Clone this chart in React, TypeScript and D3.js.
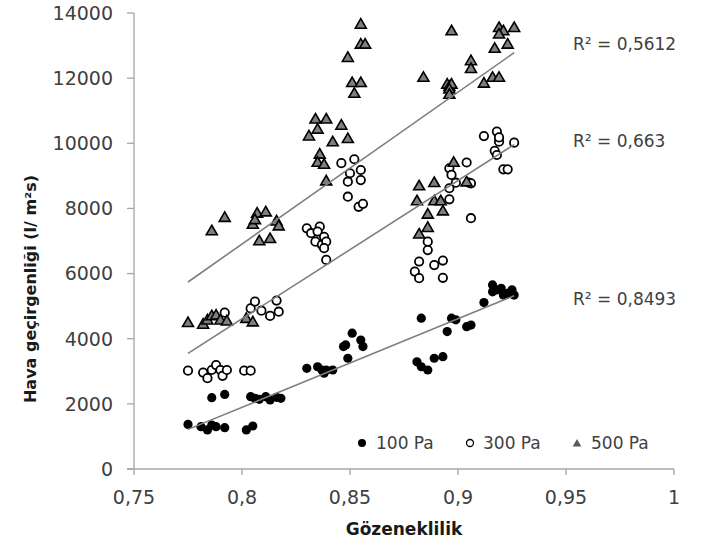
import * as React from 'react'
import * as d3 from 'd3'

// porosity / air permeability
const x100 = [0.775, 0.781, 0.784, 0.786, 0.788, 0.792, 0.786, 0.792, 0.802, 0.805, 0.804, 0.806, 0.808, 0.811, 0.813, 0.816, 0.818,
  0.830, 0.835, 0.839, 0.838, 0.842, 0.837, 0.849, 0.848, 0.851, 0.855, 0.856, 0.847,
  0.881, 0.883, 0.886, 0.889, 0.893, 0.883, 0.895, 0.897, 0.899, 0.904, 0.906, 0.912, 0.916, 0.918, 0.920, 0.923, 0.925, 0.926, 0.916, 0.921]
const y100 = [1370, 1300, 1200, 1350, 1300, 1270, 2190, 2290, 1200, 1320, 2220, 2170, 2140, 2220, 2120, 2200, 2170,
  3090, 3140, 3040, 2940, 3040, 3040, 3400, 3810, 4170, 3960, 3760, 3760,
  3290, 3140, 3040, 3400, 3450, 4630, 4220, 4630, 4580, 4370, 4420, 5110, 5650, 5500, 5550, 5390, 5500, 5340, 5440, 5340]

const x300 = [0.775, 0.782, 0.784, 0.786, 0.788, 0.790, 0.791, 0.793, 0.801, 0.804, 0.792, 0.804, 0.806, 0.809, 0.813, 0.816, 0.817,
  0.830, 0.832, 0.836, 0.835, 0.838, 0.834, 0.837, 0.839, 0.838, 0.839,
  0.846, 0.852, 0.855, 0.850, 0.855, 0.849, 0.849, 0.854, 0.856,
  0.886, 0.886, 0.882, 0.880, 0.882, 0.889, 0.893, 0.893,
  0.896, 0.897, 0.899, 0.896, 0.904, 0.905, 0.906, 0.896, 0.906,
  0.912, 0.918, 0.919, 0.919, 0.926, 0.917, 0.918, 0.921, 0.923]
const y300 = [3020, 2960, 2790, 3040, 3190, 3040, 2860, 3040, 3020, 3020, 4800, 4930, 5140, 4860, 4700, 5170, 4830,
  7390, 7240, 7440, 7290, 7130, 6980, 6880, 6980, 6780, 6420,
  9390, 9510, 9180, 9080, 8870, 8820, 8360, 8050, 8140,
  6980, 6720, 6370, 6060, 5860, 6260, 6400, 5870,
  9230, 9030, 8790, 8620, 9410, 8790, 8770, 8280, 7700,
  10220, 10360, 10050, 10180, 10020, 9770, 9640, 9200, 9200]

const x500 = [0.775, 0.782, 0.784, 0.786, 0.788, 0.790, 0.793, 0.802, 0.805,
  0.786, 0.792, 0.805, 0.807, 0.806, 0.811, 0.816, 0.817, 0.808, 0.813,
  0.834, 0.839, 0.835, 0.831, 0.836, 0.835, 0.838, 0.839, 0.846, 0.849, 0.842,
  0.855, 0.855, 0.857, 0.849, 0.851, 0.855, 0.852,
  0.884, 0.897, 0.895, 0.896, 0.897, 0.896, 0.896,
  0.906, 0.906, 0.912, 0.916, 0.919, 0.919, 0.921, 0.926, 0.919, 0.923, 0.917,
  0.881, 0.882, 0.889, 0.889, 0.892, 0.886, 0.893, 0.882, 0.886, 0.898, 0.904]
const y500 = [4470, 4420, 4550, 4680, 4700, 4550, 4520, 4600, 4490,
  7290, 7700, 7490, 7830, 7630, 7870, 7590, 7440, 6980, 7050,
  10720, 10720, 10410, 10200, 9640, 9390, 9330, 8820, 10530, 10120, 10020,
  13630, 13020, 13020, 12610, 11840, 11840, 11510,
  12000, 13430, 11790, 11720, 11790, 11640, 11480,
  12510, 12270, 11820, 12000, 12000, 13530, 13430, 13530, 13330, 13020, 12890,
  8210, 8670, 8770, 8210, 8210, 7800, 7900, 7190, 7390, 9390, 8790]

const seriesNames = ['100 Pa', '300 Pa', '500 Pa']
const rSquared = ['R² = 0,8493', 'R² = 0,663', 'R² = 0,5612']

const xTicks = [0.75, 0.8, 0.85, 0.9, 0.95, 1]
const xTickLabels = ['0,75', '0,8', '0,85', '0,9', '0,95', '1']
const yTicks = [0, 2000, 4000, 6000, 8000, 10000, 12000, 14000]

const FONT = '"DejaVu Sans", sans-serif'
const AXIS = '#a6a6a6'
const TEXT = '#404040'

const fit = (xs: number[], ys: number[]) => {
  const mx = d3.mean(xs) as number
  const my = d3.mean(ys) as number
  const b = d3.sum(xs, (v, i) => (v - mx) * (ys[i] - my)) / d3.sum(xs, v => (v - mx) ** 2)
  const a = my - b * mx
  const [x0, x1] = d3.extent(xs) as [number, number]
  return [[x0, a + b * x0], [x1, a + b * x1]] as [number, number][]
}

const App = () => {
  const x = d3.scaleLinear().domain([0.75, 1]).range([134, 674])
  const y = d3.scaleLinear().domain([0, 14000]).range([469, 13])
  const tri = d3.symbol().type(d3.symbolTriangle).size(52)()
  const triSmall = d3.symbol().type(d3.symbolTriangle).size(32)()
  const line = d3.line<[number, number]>().x(d => x(d[0])).y(d => y(d[1]))

  const series = [[x100, y100], [x300, y300], [x500, y500]]
  const labelY = [305, 147, 50]

  return (
    <svg width={711} height={546} style={{ position: 'absolute', left: 0, top: 0, background: '#fff' }}
      fontFamily={FONT}>
      {/* axes */}
      <line x1={134} x2={134} y1={y(14000)} y2={y(0)} stroke={AXIS} strokeWidth={1.3} />
      <line x1={127} x2={674} y1={y(0)} y2={y(0)} stroke={AXIS} strokeWidth={1.3} />
      {yTicks.map(t => (
        <g key={t}>
          <line x1={127} x2={134} y1={y(t)} y2={y(t)} stroke={AXIS} strokeWidth={1.3} />
          <text x={113} y={y(t)} dy="0.36em" textAnchor="end" fontSize={19} fill={TEXT}>{t}</text>
        </g>
      ))}
      {xTicks.map((t, i) => (
        <g key={t}>
          <line x1={x(t)} x2={x(t)} y1={y(0)} y2={y(0) + 6} stroke={AXIS} strokeWidth={1.3} />
          <text x={x(t)} y={504} textAnchor="middle" fontSize={19} fill={TEXT}>{xTickLabels[i]}</text>
        </g>
      ))}

      {/* markers */}
      {x100.map((v, i) => (
        <circle key={'a' + i} cx={x(v)} cy={y(y100[i])} r={4.6} fill="#000" />
      ))}
      {x300.map((v, i) => (
        <circle key={'b' + i} cx={x(v)} cy={y(y300[i])} r={4.2} fill="#fff" stroke="#000" strokeWidth={1.8} />
      ))}
      {x500.map((v, i) => (
        <path key={'c' + i} d={tri as string} transform={`translate(${x(v)},${y(y500[i])})`}
          fill="#7f7f7f" stroke="#000" strokeWidth={1.6} />
      ))}

      {/* linear trendlines */}
      {series.map(([xs, ys], i) => (
        <path key={'t' + i} d={line(fit(xs, ys)) as string} fill="none" stroke="#7f7f7f" strokeWidth={1.6} />
      ))}
      {rSquared.map((s, i) => (
        <text key={s} x={573} y={labelY[i]} fontSize={17} fill={TEXT}>{s}</text>
      ))}

      {/* legend */}
      <circle cx={362} cy={443} r={4} fill="#000" />
      <text x={376} y={449} fontSize={17} fill={TEXT}>{seriesNames[0]}</text>
      <circle cx={470} cy={443} r={3.5} fill="#fff" stroke="#000" strokeWidth={1.3} />
      <text x={483} y={449} fontSize={17} fill={TEXT}>{seriesNames[1]}</text>
      <path d={triSmall as string} transform="translate(577,444)" fill="#595959" />
      <text x={591} y={449} fontSize={17} fill={TEXT}>{seriesNames[2]}</text>

      {/* titles */}
      <text x={404} y={535} textAnchor="middle" fontSize={17} fontWeight="bold" fill="#1a1a1a">Gözeneklilik</text>
      <text transform="translate(36,289) rotate(-90)" textAnchor="middle" fontSize={16} fontWeight="bold" fill="#1a1a1a">
        Hava geçirgenliği (l/ m²s)
      </text>
    </svg>
  )
}

export default App
